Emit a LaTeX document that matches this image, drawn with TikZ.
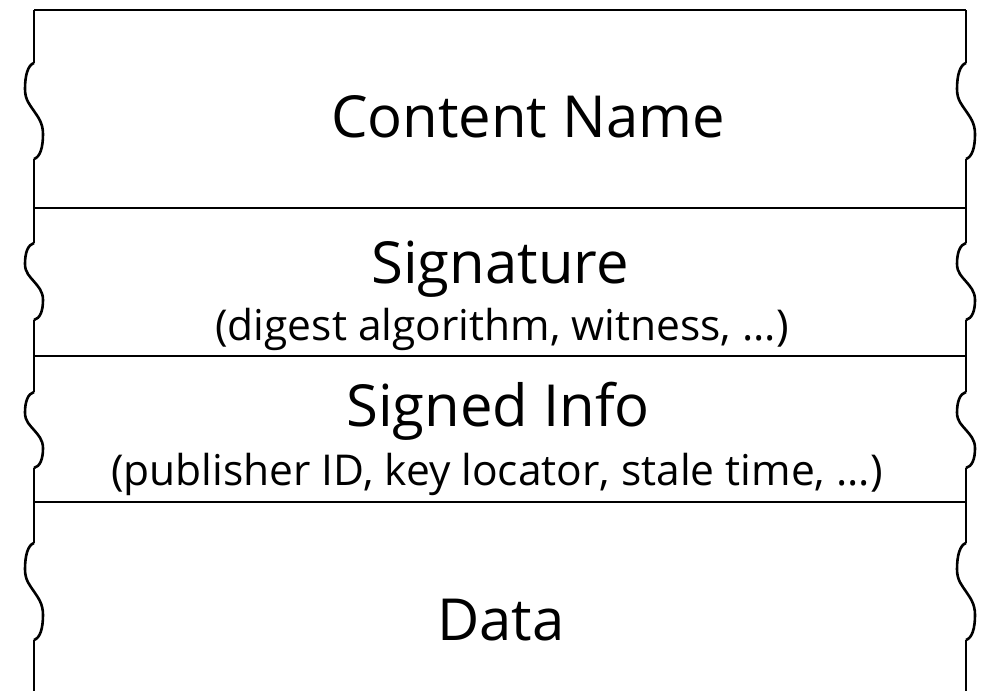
\documentclass[tikz,border=0pt]{standalone}
\usepackage{fontspec}
\setmainfont{Open Sans}
\tikzset{
  wall/.style={line width=2.6pt, line join=miter},
  title/.style={font=\fontsize{58}{60}\selectfont, anchor=base},
  detail/.style={font=\fontsize{42.5}{45}\selectfont, anchor=base}
}
\begin{document}
\begin{tikzpicture}[x=1pt, y=-1pt]
  \useasboundingbox (0,0) rectangle (987,691);
  % top edge and field separators
  \draw[wall] (34,10) -- (966,10);
  \foreach \yy in {208,356,502} {
    \draw[wall] (34,\yy) -- (966,\yy);
  }
  % side walls, broken by the wavy cuts
  \foreach \xx in {34,966} {
    \foreach \ya/\yb in {10/63,159/243,320/392,468/543,640/691} {
      \draw[wall] (\xx,\ya) -- (\xx,\yb);
    }
    \foreach \ya/\yb in {63/159,243/320,392/468,543/640} {
      \begin{scope}[shift={(\xx,\ya)}, yscale={(\yb-\ya)/96}]
        \draw[wall] (0,0) .. controls (-6,2) and (-9,12) .. (-9,26)
          .. controls (-9,37) and (-4,42) .. (0,48)
          .. controls (4,54) and (9,60) .. (9,71)
          .. controls (9,85) and (6,94) .. (0,96);
      \end{scope}
    }
  }
  % field texts
  \node[title] (name) at (528,137) {Content Name};
  \node[title] (sig) at (500,283) {Signature};
  \node[detail] (sigdetail) at (502,340) {(digest algorithm, witness, ...)};
  \node[title] (info) at (498,426) {Signed Info};
  \node[detail] (infodetail) at (497,485) {(publisher ID, key locator, stale time, ...)};
  \node[title] (data) at (501,640) {Data};
\end{tikzpicture}
\end{document}
